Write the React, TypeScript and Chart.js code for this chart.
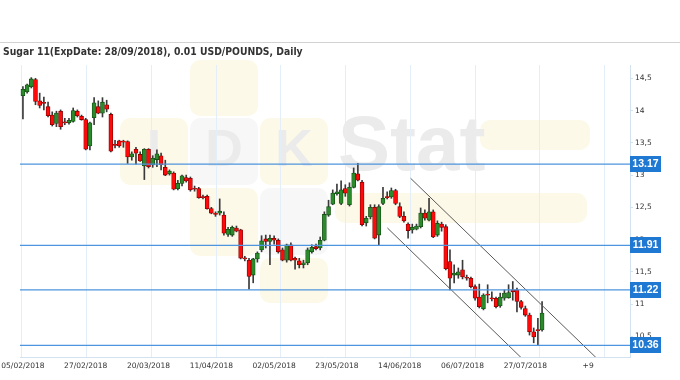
import React, { useEffect, useRef } from "react";
import { Chart, registerables } from "chart.js";

Chart.register(...registerables);

const TITLE = "Sugar 11(ExpDate: 28/09/2018), 0.01 USD/POUNDS, Daily";
const DATE_LABELS = [
  "05/02/2018", "27/02/2018", "20/03/2018", "11/04/2018", "02/05/2018",
  "23/05/2018", "14/06/2018", "06/07/2018", "27/07/2018", "+9",
];
const LABEL_STEP = 15;

const OPEN = [
  14.23, 14.29, 14.37, 14.48, 14.15, 14.12, 14.06, 13.93, 13.80, 13.99,
  13.82, 13.81, 13.83, 13.99, 13.91, 13.86, 13.45, 13.89, 14.06, 13.96,
  14.09, 13.94, 13.47, 13.53, 13.52, 13.52, 13.28, 13.40, 13.32, 13.14,
  13.40, 13.16, 13.24, 13.30, 13.12, 13.02, 13.03, 12.79, 12.87, 12.96,
  12.95, 12.79, 12.79, 12.66, 12.67, 12.48, 12.40, 12.41, 12.38, 12.08,
  12.07, 12.18, 12.15, 11.71, 11.68, 11.45, 11.70, 11.84, 12.01, 11.97,
  12.02, 11.99, 11.84, 11.68, 11.92, 11.71, 11.67, 11.61, 11.64, 11.81,
  11.89, 11.87, 11.99, 12.38, 12.55, 12.71, 12.56, 12.79, 12.54, 12.81,
  13.02, 12.89, 12.26, 12.35, 12.50, 12.07, 12.56, 12.66, 12.66, 12.76,
  12.51, 12.36, 12.24, 12.15, 12.16, 12.20, 12.41, 12.30, 12.43, 12.07,
  12.24, 12.20, 11.66, 11.45, 11.45, 11.53, 11.41, 11.40, 11.27, 11.11,
  10.93, 11.15, 11.09, 11.09, 10.97, 11.09, 11.10, 11.22, 11.22, 11.04,
  10.93, 10.83, 10.57, 10.60, 10.60,
];
const HIGH = [
  14.37, 14.41, 14.51, 14.50, 14.27, 14.21, 14.13, 13.98, 13.99, 14.01,
  13.88, 13.88, 14.04, 14.01, 13.93, 13.88, 13.82, 14.20, 14.15, 14.20,
  14.16, 13.96, 13.54, 13.54, 13.54, 13.53, 13.36, 13.43, 13.36, 13.41,
  13.41, 13.30, 13.39, 13.34, 13.23, 13.08, 13.05, 12.92, 13.00, 13.00,
  12.97, 12.83, 12.81, 12.69, 12.69, 12.50, 12.43, 12.63, 12.43, 12.19,
  12.21, 12.21, 12.16, 11.74, 11.71, 11.71, 11.81, 12.06, 12.07, 12.07,
  12.06, 12.01, 11.87, 11.93, 11.95, 11.73, 11.71, 11.68, 11.87, 11.92,
  11.93, 12.04, 12.43, 12.61, 12.77, 12.86, 12.91, 12.85, 12.88, 13.11,
  13.18, 12.92, 12.36, 12.54, 12.54, 12.54, 12.81, 12.74, 12.80, 12.78,
  12.57, 12.43, 12.26, 12.24, 12.24, 12.49, 12.46, 12.64, 12.46, 12.29,
  12.27, 12.23, 11.84, 11.61, 11.56, 11.68, 11.45, 11.42, 11.30, 11.31,
  11.16, 11.30, 11.19, 11.11, 11.17, 11.22, 11.30, 11.35, 11.25, 11.06,
  10.97, 10.86, 10.63, 10.78, 11.04,
];
const LOW = [
  13.87, 14.27, 14.35, 14.09, 14.04, 14.01, 13.90, 13.76, 13.75, 13.71,
  13.78, 13.79, 13.82, 13.90, 13.85, 13.39, 13.39, 13.78, 13.95, 13.90,
  13.98, 13.36, 13.42, 13.43, 13.43, 13.18, 13.23, 13.17, 13.21, 12.93,
  13.11, 13.12, 13.13, 13.08, 12.99, 13.00, 12.77, 12.77, 12.83, 12.89,
  12.75, 12.75, 12.64, 12.63, 12.47, 12.40, 12.36, 12.38, 12.07, 12.05,
  12.05, 12.12, 11.70, 11.67, 11.23, 11.33, 11.65, 11.81, 11.87, 11.61,
  11.93, 11.79, 11.67, 11.65, 11.67, 11.54, 11.56, 11.56, 11.61, 11.79,
  11.84, 11.84, 11.98, 12.36, 12.54, 12.69, 12.54, 12.67, 12.52, 12.80,
  12.91, 12.21, 12.21, 12.32, 12.01, 11.92, 12.54, 12.63, 12.64, 12.54,
  12.34, 12.27, 12.02, 12.10, 12.15, 12.18, 12.30, 12.29, 12.03, 12.05,
  12.13, 11.53, 11.22, 11.33, 11.40, 11.39, 11.37, 11.25, 11.06, 10.94,
  10.91, 11.02, 11.05, 10.94, 10.95, 11.06, 11.09, 11.06, 10.88, 10.92,
  10.81, 10.52, 10.40, 10.37, 10.58,
];
const CLOSE = [
  14.33, 14.40, 14.49, 14.14, 14.08, 14.11, 13.92, 13.78, 13.96, 13.75,
  13.81, 13.85, 14.00, 13.92, 13.86, 13.40, 13.81, 14.12, 13.96, 14.13,
  14.02, 13.37, 13.46, 13.45, 13.51, 13.28, 13.33, 13.34, 13.22, 13.40,
  13.13, 13.26, 13.33, 13.16, 13.00, 13.06, 12.78, 12.87, 12.99, 12.91,
  12.77, 12.78, 12.65, 12.65, 12.48, 12.41, 12.39, 12.44, 12.10, 12.16,
  12.19, 12.13, 11.71, 11.70, 11.43, 11.70, 11.79, 11.98, 11.97, 12.02,
  11.99, 11.81, 11.68, 11.92, 11.68, 11.68, 11.61, 11.64, 11.84, 11.88,
  11.86, 11.99, 12.39, 12.51, 12.72, 12.74, 12.77, 12.72, 12.81, 13.03,
  12.92, 12.23, 12.33, 12.50, 12.02, 12.51, 12.64, 12.65, 12.76, 12.56,
  12.36, 12.29, 12.14, 12.19, 12.21, 12.41, 12.33, 12.43, 12.04, 12.25,
  12.19, 11.55, 11.40, 11.48, 11.50, 11.42, 11.40, 11.27, 11.09, 10.96,
  11.14, 11.14, 11.08, 10.96, 11.11, 11.17, 11.18, 11.19, 11.04, 10.95,
  10.83, 10.57, 10.49, 10.59, 10.86,
];

const LEVELS = [13.17, 11.91, 11.22, 10.36];
const CHANNEL_UPPER = [{ x: 92.6, y: 12.95 }, { x: 136.9, y: 10.17 }];
const CHANNEL_LOWER = [{ x: 87.05, y: 12.18 }, { x: 119.0, y: 10.17 }];
const Y_TICKS = [10.5, 11, 11.5, 12, 12.5, 13, 13.5, 14, 14.5];

const X_MIN = -0.7;
const X_MAX = 145;
const Y_MIN = 10.18;
const Y_MAX = 14.706;
const GRID_START = -0.4;
const GRID_STEP = 15.47;

const FONT = "DejaVu Sans";
const AXIS_COLOR = "#d3e2f0";
const GRID_COLOR = "#e4eef8";
const UP_FILL = "#2b8a2b";
const UP_LINE = "#145214";
const DOWN_FILL = "#ff0a0a";
const DOWN_LINE = "#8a0000";
const WICK = "#3a3a3a";
const LEVEL_COLOR = "#4e95dd";
const LEVEL_BOX = "#1f78d1";

const watermarkPlugin = {
  id: "watermark",
  beforeDraw(chart: any) {
    const ctx = chart.ctx as CanvasRenderingContext2D;
    ctx.save();
    const Y = "#fdf9e8";
    const G = "#f7f7f7";
    const rects: [number, number, number, number, string][] = [
      [190, 60, 68, 56, Y],
      [120, 118, 68, 67, Y],
      [190, 118, 68, 67, G],
      [260, 118, 68, 67, Y],
      [190, 188, 68, 68, Y],
      [260, 188, 68, 67, G],
      [260, 258, 68, 45, Y],
      [480, 120, 110, 30, Y],
      [335, 193, 252, 30, Y],
    ];
    rects.forEach(([x, y, w, h, c]) => {
      ctx.fillStyle = c;
      ctx.beginPath();
      (ctx as any).roundRect(x, y, w, h, 10);
      ctx.fill();
    });
    ctx.fillStyle = "#ebebeb";
    ctx.font = 'bold 52px "Liberation Sans"';
    ctx.textAlign = "center";
    ctx.textBaseline = "middle";
    ctx.fillText("I", 154, 152);
    ctx.fillText("D", 224, 152);
    ctx.fillText("K", 294, 152);
    ctx.textAlign = "left";
    ctx.textBaseline = "alphabetic";
    ctx.font = 'bold 78px "Liberation Sans"';
    ctx.fillText("Stat", 338, 170);
    ctx.restore();
  },
};

const gridPlugin = {
  id: "vgrid",
  beforeDatasetsDraw(chart: any) {
    const { ctx, chartArea, scales } = chart;
    ctx.save();
    ctx.strokeStyle = GRID_COLOR;
    ctx.lineWidth = 1;
    for (let v = GRID_START; v <= X_MAX; v += GRID_STEP) {
      const x = Math.round(scales.x.getPixelForValue(v)) + 0.5;
      ctx.beginPath();
      ctx.moveTo(x, chartArea.top);
      ctx.lineTo(x, chartArea.bottom);
      ctx.stroke();
    }
    ctx.restore();
  },
};

const levelPlugin = {
  id: "levels",
  afterDatasetsDraw(chart: any) {
    const { ctx, chartArea, scales } = chart;
    ctx.save();
    ctx.strokeStyle = LEVEL_COLOR;
    ctx.lineWidth = 1.3;
    LEVELS.forEach((v) => {
      const y = scales.y.getPixelForValue(v);
      ctx.beginPath();
      ctx.moveTo(chartArea.left, y);
      ctx.lineTo(chartArea.right, y);
      ctx.stroke();
    });
    ctx.restore();
  },
  afterDraw(chart: any) {
    const { ctx, chartArea, scales } = chart;
    ctx.save();
    ctx.font = 'bold 10.5px "Liberation Sans"';
    ctx.textAlign = "center";
    ctx.textBaseline = "middle";
    LEVELS.forEach((v) => {
      const y = scales.y.getPixelForValue(v);
      ctx.fillStyle = LEVEL_BOX;
      ctx.fillRect(chartArea.right, Math.round(y) - 8, 31, 16);
      ctx.fillStyle = "#ffffff";
      ctx.fillText(v.toFixed(2), chartArea.right + 15.5, Math.round(y) + 0.5);
    });
    ctx.restore();
  },
};

export default function App() {
  const ref = useRef<HTMLCanvasElement>(null);

  useEffect(() => {
    const canvas = ref.current;
    if (!canvas) return;
    const idx = OPEN.map((_, i) => i);
    const up = idx.map((i) => CLOSE[i] >= OPEN[i]);
    const bodies = idx.map((i) => ({ x: i, y: [OPEN[i], CLOSE[i]] }));
    const wicks = idx.map((i) => ({ x: i, y: [LOW[i], HIGH[i]] }));

    const chart = new Chart(canvas, {
      type: "bar",
      data: {
        datasets: [
          {
            type: "line",
            data: CHANNEL_UPPER,
            borderColor: "#5a5a5a",
            borderWidth: 1,
            pointRadius: 0,
            tension: 0,
            fill: false,
            order: 0,
          } as any,
          {
            type: "line",
            data: CHANNEL_LOWER,
            borderColor: "#5a5a5a",
            borderWidth: 1,
            pointRadius: 0,
            tension: 0,
            fill: false,
            order: 0,
          } as any,
          {
            type: "bar",
            data: bodies,
            backgroundColor: up.map((u) => (u ? UP_FILL : DOWN_FILL)),
            borderColor: up.map((u) => (u ? UP_LINE : DOWN_LINE)),
            borderWidth: 0.8,
            borderSkipped: false,
            barThickness: 4,
            minBarLength: 1,
            grouped: false,
            order: 1,
          } as any,
          {
            type: "bar",
            data: wicks,
            backgroundColor: WICK,
            borderWidth: 0,
            barThickness: 1,
            grouped: false,
            order: 2,
          } as any,
        ],
      },
      options: {
        animation: false,
        responsive: false,
        maintainAspectRatio: false,
        events: [],
        layout: { padding: { left: 20, top: 65, right: 0, bottom: 0 } },
        plugins: {
          legend: { display: false },
          tooltip: { enabled: false },
          title: { display: false },
        },
        scales: {
          x: {
            type: "linear",
            min: X_MIN,
            max: X_MAX,
            offset: false,
            grid: { display: false, drawTicks: false },
            border: { display: true, color: AXIS_COLOR },
            ticks: {
              autoSkip: false,
              maxRotation: 0,
              padding: 5,
              color: "#333",
              font: { family: FONT, size: 7.5 },
              callback: (v: any) => {
                const k = Math.round(Number(v) / LABEL_STEP);
                return DATE_LABELS[k] ?? "";
              },
            },
            afterBuildTicks: (s: any) => {
              s.ticks = DATE_LABELS.map((_, k) => ({ value: k * LABEL_STEP }));
            },
            afterFit: (s: any) => {
              s.height = 23;
              s.paddingLeft = 0;
              s.paddingRight = 0;
            },
          } as any,
          y: {
            type: "linear",
            position: "right",
            min: Y_MIN,
            max: Y_MAX,
            beginAtZero: false,
            grid: {
              display: true,
              drawOnChartArea: false,
              drawTicks: true,
              tickLength: 3,
              color: AXIS_COLOR,
            },
            border: { display: true, color: AXIS_COLOR },
            ticks: {
              padding: 2,
              color: "#333",
              font: { family: FONT, size: 7.5 },
              callback: (v: any) => String(v).replace(".", ","),
            },
            afterBuildTicks: (s: any) => {
              s.ticks = Y_TICKS.map((v) => ({ value: v }));
            },
            afterFit: (s: any) => {
              s.width = 50;
              s.paddingTop = 0;
              s.paddingBottom = 0;
            },
          } as any,
        },
      },
      plugins: [watermarkPlugin, gridPlugin, levelPlugin],
    });

    return () => chart.destroy();
  }, []);

  return (
    <div
      style={{
        position: "fixed",
        left: 0,
        top: 0,
        width: 680,
        height: 380,
        background: "#ffffff",
        overflow: "hidden",
      }}
    >
      <canvas
        ref={ref}
        width={680}
        height={380}
        style={{ position: "absolute", left: 0, top: 0, width: 680, height: 380 }}
      />
      <div
        style={{
          position: "absolute",
          left: 0,
          top: 42,
          width: 680,
          height: 1,
          background: "#d2d2d2",
        }}
      />
      <div
        style={{
          position: "absolute",
          left: 3,
          top: 45,
          font: 'bold 10.3px "DejaVu Sans Condensed", "Liberation Sans", sans-serif',
          lineHeight: "13px",
          color: "#333",
          whiteSpace: "nowrap",
        }}
      >
        {TITLE}
      </div>
    </div>
  );
}
